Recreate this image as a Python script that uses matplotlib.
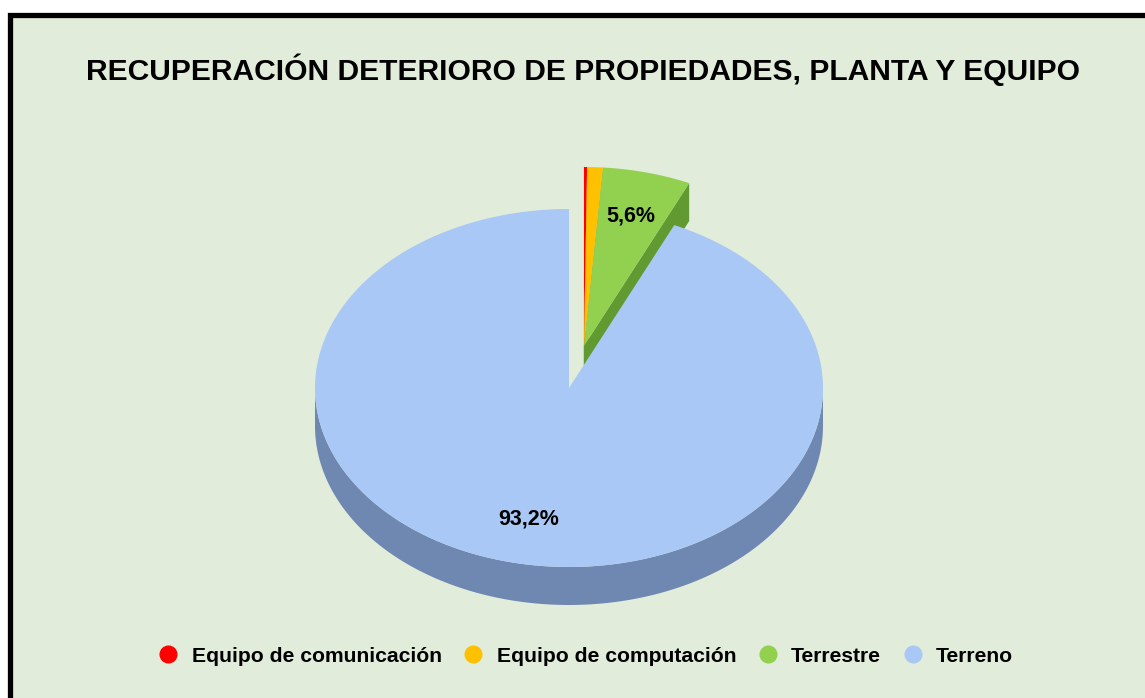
import numpy as np
import matplotlib
matplotlib.use("Agg")
import matplotlib.pyplot as plt
from matplotlib.patches import Polygon, Rectangle
from matplotlib.lines import Line2D

plt.rcParams['font.family'] = ['Liberation Sans', 'DejaVu Sans']

# data
categories = ['Equipo de comunicación', 'Equipo de computación', 'Terrestre', 'Terreno']
values = [0.2, 1.0, 5.6, 93.2]
top_colors = ['#FF0000', '#FFC000', '#92D050', '#A9C8F5']
side_colors = ['#B00000', '#B08600', '#629A32', '#6F88B2']
show_label = [False, False, True, True]
exploded = [True, True, True, False]

title = 'RECUPERACIÓN DETERIORO DE PROPIEDADES, PLANTA Y EQUIPO'
BG = '#E1EDDA'

# pie geometry in pixel units
W, H = 1145, 698
cx, cy = 569, 388
rx, ry = 254, 179
depth = 38
explode_frac = 0.24


def arc(t0, t1, ox, oy, dy=0, n=200):
    t = np.linspace(t0, t1, n)
    return np.column_stack([ox + rx * np.sin(t), oy - ry * np.cos(t) + dy])


fig = plt.figure(figsize=(W / 100, H / 100), dpi=100)
fig.patch.set_facecolor('white')
ax = fig.add_axes([0, 0, 1, 1])
ax.set_xlim(0, W)
ax.set_ylim(H, 0)
ax.axis('off')

ax.add_patch(Rectangle((9.5, 14.5), 1300, 900, facecolor=BG, edgecolor='black', lw=3.8))

total = sum(values)
fracs = np.array(values) / total
ends = np.cumsum(fracs) * 2 * np.pi
starts = ends - fracs * 2 * np.pi

# explosion offset for the small group along its mid angle
grp_start = min(starts[i] for i in range(4) if exploded[i])
grp_end = max(ends[i] for i in range(4) if exploded[i])
gmid = (grp_start + grp_end) / 2
ex_dx = explode_frac * rx * np.sin(gmid) + 2
ex_dy = -explode_frac * ry * np.cos(gmid)

centers = []
for i in range(4):
    if exploded[i]:
        centers.append((cx + ex_dx, cy + ex_dy))
    else:
        centers.append((cx, cy))

order = [i for i in range(4) if exploded[i]] + [i for i in range(4) if not exploded[i]]
for i in order:
    ox, oy = centers[i]
    t0, t1 = starts[i], ends[i]
    # outer front side
    a0, a1 = max(t0, np.pi / 2), min(t1, 3 * np.pi / 2)
    if a1 > a0:
        top = arc(a0, a1, ox, oy)
        bot = arc(a0, a1, ox, oy, dy=depth)[::-1]
        ax.add_patch(Polygon(np.vstack([top, bot]), closed=True, fc=side_colors[i], ec='none'))
    # radial face at the end edge
    if 0 < t1 < np.pi:
        px, py = ox + rx * np.sin(t1), oy - ry * np.cos(t1)
        face = [(ox, oy), (px, py), (px, py + depth), (ox, oy + depth)]
        ax.add_patch(Polygon(face, closed=True, fc=side_colors[i], ec='none'))
    # top surface
    pts = np.vstack([[ox, oy], arc(t0, t1, ox, oy)])
    ax.add_patch(Polygon(pts, closed=True, fc=top_colors[i], ec='none'))

# labels
for i in range(4):
    if not show_label[i]:
        continue
    ox, oy = centers[i]
    mid = (starts[i] + ends[i]) / 2
    lx = ox + 0.75 * rx * np.sin(mid)
    ly = oy - 0.75 * ry * np.cos(mid)
    ax.text(lx, ly, f'{values[i]:.1f}%'.replace('.', ','), ha='center', va='center',
            fontsize=15.5, fontweight='bold', color='black')

ax.text(583, 70, title, ha='center', va='center', fontsize=21.6, fontweight='bold', color='black')

handles = [Line2D([], [], marker='o', ls='none', ms=12, mfc=c, mec=c) for c in top_colors]
fig.legend(handles, categories, loc='center', bbox_to_anchor=(587 / W, 1 - 656 / H), ncol=4,
           frameon=False, prop={'size': 15.2, 'weight': 'bold'}, handlelength=0.7,
           handletextpad=0.75, columnspacing=1.15)

fig.savefig('out.png', dpi=100, facecolor=fig.get_facecolor())
